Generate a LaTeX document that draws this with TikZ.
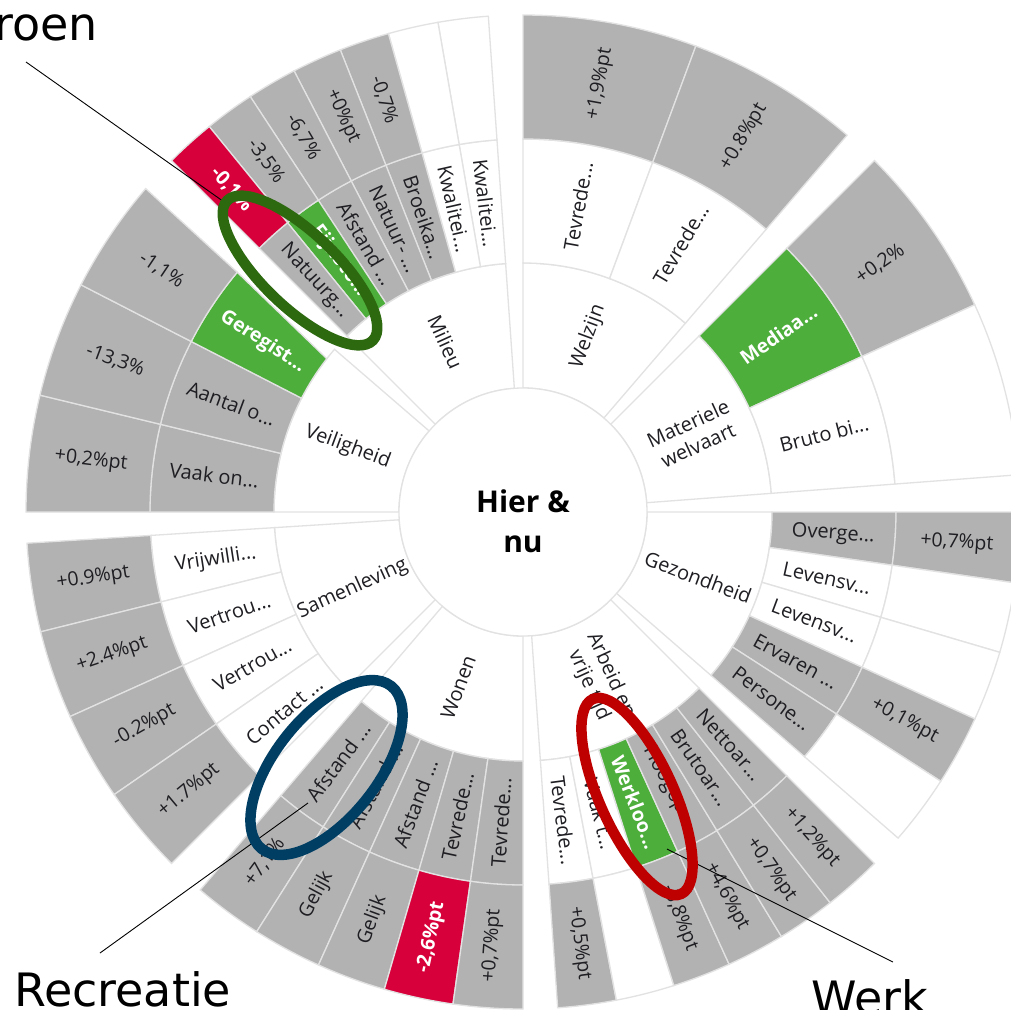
\documentclass[tikz,border=0pt]{standalone}
\usepackage{fontspec}
\setmainfont{Open Sans}
\newfontfamily\callfont{DejaVu Sans}
\definecolor{sbgray}{RGB}{178,178,178}
\definecolor{sbgreen}{RGB}{77,174,59}
\definecolor{sbred}{RGB}{216,0,58}
\definecolor{sbline}{RGB}{226,226,226}
\definecolor{sbtext}{RGB}{30,30,35}
\definecolor{ovgreen}{RGB}{45,105,15}
\definecolor{ovblue}{RGB}{0,62,100}
\definecolor{ovred}{RGB}{190,0,0}
% cell: rin, rout, a1, a2, style
\newcommand\sbc[5]{\path[#5] (#3:#1) arc[start angle=#3,end angle=#4,radius=#1] -- (#4:#2) arc[start angle=#4,end angle=#3,radius=#2] -- cycle;}
% label: name, angle, radius, text, style
\newcommand\sbl[5]{\pgfmathsetmacro\sbrot{ifthenelse(and(#2>90,#2<270),#2-180,#2)}\node[#5,rotate=\sbrot] (#1) at (#2:#3) {#4};}
\begin{document}
\begin{tikzpicture}[x=1pt,y=1pt,
  cw/.style={fill=white,draw=sbline,line width=1.3},
  cg/.style={fill=sbgray,draw=sbline,line width=1.3},
  cgr/.style={fill=sbgreen,draw=sbline,line width=1.3},
  cr/.style={fill=sbred,draw=sbline,line width=1.3},
  lab/.style={inner sep=0,text=sbtext,font=\fontsize{20}{24}\selectfont,align=center},
  vlab/.style={inner sep=0,text=sbtext,font=\fontsize{19.5}{23}\selectfont},
  wlab/.style={text=white,font=\bfseries\fontsize{19.5}{23}\selectfont},
  oval/.style={line width=10.5},
  callout/.style={draw=black,line width=0.9},
  calltext/.style={inner sep=0,font=\callfont\fontsize{46}{50}\selectfont}]
\useasboundingbox (0,0) rectangle (1010,-1010);
\fill[white] (0,0) rectangle (1010,-1010);
\begin{scope}[shift={(523,-512)}]
% ---------------- Welzijn
\sbc{124}{249}{49.3}{90}{cw}
\sbc{249}{373}{69.65}{90}{cw}
\sbc{249}{373}{49.3}{69.65}{cw}
\sbc{373}{497}{69.65}{90}{cg}
\sbc{373}{497}{49.3}{69.65}{cg}
% ---------------- Materiele welvaart
\sbc{124}{249}{4.3}{45}{cw}
\sbc{249}{373}{24.65}{45}{cgr}
\sbc{249}{373}{4.3}{24.65}{cw}
\sbc{373}{497}{24.65}{45}{cg}
\sbc{373}{497}{4.3}{24.65}{cw}
% ---------------- Gezondheid
\sbc{124}{249}{-41}{0}{cw}
\sbc{249}{373}{-8.2}{0}{cg}
\sbc{249}{373}{-16.4}{-8.2}{cw}
\sbc{249}{373}{-24.6}{-16.4}{cw}
\sbc{249}{373}{-32.8}{-24.6}{cg}
\sbc{249}{373}{-41}{-32.8}{cg}
\sbc{373}{497}{-8.2}{0}{cg}
\sbc{373}{497}{-16.4}{-8.2}{cw}
\sbc{373}{497}{-24.6}{-16.4}{cw}
\sbc{373}{497}{-32.8}{-24.6}{cg}
\sbc{373}{497}{-41}{-32.8}{cw}
% ---------------- Arbeid en vrije tijd
\sbc{124}{249}{-86}{-45}{cw}
\sbc{249}{373}{-86}{-79.17}{cw}
\sbc{249}{373}{-79.17}{-72.33}{cw}
\sbc{249}{373}{-72.33}{-65.5}{cgr}
\sbc{249}{373}{-65.5}{-58.67}{cg}
\sbc{249}{373}{-58.67}{-51.83}{cg}
\sbc{249}{373}{-51.83}{-45}{cg}
\sbc{373}{497}{-86}{-79.17}{cg}
\sbc{373}{497}{-79.17}{-72.33}{cw}
\sbc{373}{497}{-72.33}{-65.5}{cg}
\sbc{373}{497}{-65.5}{-58.67}{cg}
\sbc{373}{497}{-58.67}{-51.83}{cg}
\sbc{373}{497}{-51.83}{-45}{cg}
% ---------------- Wonen
\sbc{124}{249}{229.5}{270}{cw}
\sbc{249}{373}{229.5}{237.6}{cg}
\sbc{249}{373}{237.6}{245.7}{cg}
\sbc{249}{373}{245.7}{253.8}{cg}
\sbc{249}{373}{253.8}{261.9}{cg}
\sbc{249}{373}{261.9}{270}{cg}
\sbc{373}{497}{229.5}{237.6}{cg}
\sbc{373}{497}{237.6}{245.7}{cg}
\sbc{373}{497}{245.7}{253.8}{cg}
\sbc{373}{497}{253.8}{261.9}{cr}
\sbc{373}{497}{261.9}{270}{cg}
% ---------------- Samenleving
\sbc{124}{249}{183.6}{225}{cw}
\sbc{249}{373}{183.6}{193.95}{cw}
\sbc{249}{373}{193.95}{204.3}{cw}
\sbc{249}{373}{204.3}{214.65}{cw}
\sbc{249}{373}{214.65}{225}{cw}
\sbc{373}{497}{183.6}{193.95}{cg}
\sbc{373}{497}{193.95}{204.3}{cg}
\sbc{373}{497}{204.3}{214.65}{cg}
\sbc{373}{497}{214.65}{225}{cg}
% ---------------- Veiligheid
\sbc{124}{249}{139.2}{180}{cw}
\sbc{249}{373}{166.4}{180}{cg}
\sbc{249}{373}{152.8}{166.4}{cg}
\path[cgr] (142:249) arc[start angle=142,end angle=152.8,radius=249] -- (152.8:373) arc[start angle=152.8,end angle=140,radius=373] -- cycle;
\sbc{373}{497}{166.4}{180}{cg}
\sbc{373}{497}{152.8}{166.4}{cg}
\path[cg] (140:373) arc[start angle=140,end angle=152.8,radius=373] -- (152.8:497) arc[start angle=152.8,end angle=139.4,radius=497] -- cycle;
% ---------------- Milieu
\sbc{124}{249}{94}{135}{cw}
\sbc{249}{373}{94}{99.857}{cw}
\sbc{249}{373}{99.857}{105.714}{cw}
\sbc{249}{373}{105.714}{111.571}{cg}
\sbc{249}{373}{111.571}{117.429}{cg}
\sbc{249}{373}{117.429}{123.286}{cg}
\sbc{249}{373}{123.286}{129.143}{cgr}
\sbc{249}{373}{129.143}{135}{cg}
\sbc{373}{497}{94}{99.857}{cw}
\sbc{373}{497}{99.857}{105.714}{cw}
\sbc{373}{497}{105.714}{111.571}{cg}
\sbc{373}{497}{111.571}{117.429}{cg}
\sbc{373}{497}{117.429}{123.286}{cg}
\sbc{373}{497}{123.286}{129.143}{cg}
\sbc{373}{497}{129.143}{135}{cr}
% ---------------- centre
\draw[fill=white,draw=sbline,line width=1.3] (0,0) circle[radius=124];
\node[inner sep=0,align=center,text=black,font=\bfseries\fontsize{30}{40}\selectfont] (centre) at (0,-9) {Hier \&\\nu};
% ---------------- labels: themes
\sbl{tWel}{69.65}{187}{Welzijn}{lab}
\sbl{tMat}{24.65}{187}{Materiele\\welvaart}{lab}
\sbl{tGez}{-20.5}{187}{Gezondheid}{lab}
\sbl{tArb}{-65.5}{185}{Arbeid en\\vrije tijd}{lab}
\sbl{tWon}{249.75}{187}{Wonen}{lab}
\sbl{tSam}{204.3}{187}{Samenleving}{lab}
\sbl{tVei}{159.6}{187}{Veiligheid}{lab}
\sbl{tMil}{114.5}{187}{Milieu}{lab}
% ---------------- labels: indicators
\sbl{iWel1}{79.8}{311}{Tevrede...}{lab}
\sbl{iWel2}{59.5}{311}{Tevrede...}{lab}
\sbl{iMat1}{34.8}{311}{Mediaa...}{lab,wlab}
\sbl{iMat2}{14.5}{311}{Bruto bi...}{lab}
\sbl{iGez1}{-4.1}{311}{Overge...}{lab}
\sbl{iGez2}{-12.3}{311}{Levensv...}{lab}
\sbl{iGez3}{-20.5}{311}{Levensv...}{lab}
\sbl{iGez4}{-28.7}{311}{Ervaren ...}{lab}
\sbl{iGez5}{-36.9}{311}{Persone...}{lab}
\sbl{iArb1}{-82.58}{311}{Tevrede...}{lab}
\sbl{iArb2}{-75.75}{311}{Vaak t...}{lab}
\sbl{iArb3}{-68.92}{311}{Werkloo...}{lab,wlab}
\sbl{iArb4}{-62.08}{311}{Hoogop...}{lab}
\sbl{iArb5}{-55.25}{311}{Brutoar...}{lab}
\sbl{iArb6}{-48.42}{311}{Nettoar...}{lab}
\sbl{iWon1}{233.55}{311}{Afstand ...}{lab}
\sbl{iWon2}{241.65}{311}{Afstand ...}{lab}
\sbl{iWon3}{249.75}{311}{Afstand ...}{lab}
\sbl{iWon4}{257.85}{311}{Tevrede...}{lab}
\sbl{iWon5}{265.95}{311}{Tevrede...}{lab}
\sbl{iSam1}{188.78}{311}{Vrijwilli...}{lab}
\sbl{iSam2}{199.13}{311}{Vertrou...}{lab}
\sbl{iSam3}{209.48}{311}{Vertrou...}{lab}
\sbl{iSam4}{219.83}{311}{Contact ...}{lab}
\sbl{iVei1}{173.2}{311}{Vaak on...}{lab}
\sbl{iVei2}{159.6}{311}{Aantal o...}{lab}
\sbl{iVei3}{146.8}{311}{Geregist...}{lab,wlab}
\sbl{iMil1}{96.93}{311}{Kwalitei...}{lab}
\sbl{iMil2}{102.79}{311}{Kwalitei...}{lab}
\sbl{iMil3}{108.64}{311}{Broeika...}{lab}
\sbl{iMil4}{114.5}{311}{Natuur- ...}{lab}
\sbl{iMil5}{120.36}{311}{Afstand ...}{lab}
\sbl{iMil6}{126.21}{311}{Fijnsto...}{lab,wlab}
\sbl{iMil7}{132.07}{311}{Natuurg...}{lab}
% ---------------- labels: values
\sbl{vWel1}{79.8}{435}{+1,9\%pt}{vlab}
\sbl{vWel2}{59.5}{435}{+0.8\%pt}{vlab}
\sbl{vMat1}{34.8}{435}{+0,2\%}{vlab}
\sbl{vGez1}{-4.1}{435}{+0,7\%pt}{vlab}
\sbl{vGez4}{-28.7}{435}{+0,1\%pt}{vlab}
\sbl{vArb1}{-82.58}{435}{+0,5\%pt}{vlab}
\sbl{vArb3}{-68.92}{435}{-3,8\%pt}{vlab}
\sbl{vArb4}{-62.08}{435}{+4,6\%pt}{vlab}
\sbl{vArb5}{-55.25}{435}{+0,7\%pt}{vlab}
\sbl{vArb6}{-48.42}{435}{+1,2\%pt}{vlab}
\sbl{vWon1}{233.55}{435}{+7,1\%}{vlab}
\sbl{vWon2}{241.65}{435}{Gelijk}{vlab}
\sbl{vWon3}{249.75}{435}{Gelijk}{vlab}
\sbl{vWon4}{257.85}{435}{-2,6\%pt}{vlab,wlab}
\sbl{vWon5}{265.95}{435}{+0,7\%pt}{vlab}
\sbl{vSam1}{188.78}{435}{+0.9\%pt}{vlab}
\sbl{vSam2}{199.13}{435}{+2.4\%pt}{vlab}
\sbl{vSam3}{209.48}{435}{-0.2\%pt}{vlab}
\sbl{vSam4}{219.83}{435}{+1.7\%pt}{vlab}
\sbl{vVei1}{173.2}{435}{+0,2\%pt}{vlab}
\sbl{vVei2}{159.6}{435}{-13,3\%}{vlab}
\sbl{vVei3}{146.2}{435}{-1,1\%}{vlab}
\sbl{vMil3}{108.64}{435}{-0,7\%}{vlab}
\sbl{vMil4}{114.5}{435}{+0\%pt}{vlab}
\sbl{vMil5}{120.36}{435}{-6,7\%}{vlab}
\sbl{vMil6}{126.21}{435}{-3,5\%}{vlab}
\sbl{vMil7}{132.07}{435}{-0,1\%}{vlab,wlab}
\end{scope}
% ---------------- callouts
\node[calltext,anchor=base east] (groen) at (98,-40) {Groen};
\node[calltext,anchor=base west] (recr) at (14,-1006) {Recreatie};
\node[calltext,anchor=base west] (werk) at (811,-1014) {Werk};
\coordinate (gA) at (26,-62);
\coordinate (gB) at (227,-204);
\coordinate (rA) at (100,-953);
\coordinate (rB) at (308,-803);
\coordinate (wA) at (893,-962);
\coordinate (wB) at (667,-849);
\draw[callout] (gA) -- (gB);
\draw[callout] (rA) -- (rB);
\draw[callout] (wA) -- (wB);
\draw[oval,draw=ovgreen,rotate around={-43.8:(300,-270.5)}] (300,-270.5) ellipse[x radius=101,y radius=37];
\draw[oval,draw=ovblue,rotate around={51.5:(326.5,-767.5)}] (326.5,-767.5) ellipse[x radius=104,y radius=51];
\draw[oval,draw=ovred,rotate around={-65.6:(637,-796.5)}] (637,-796.5) ellipse[x radius=107,y radius=37];
\end{tikzpicture}
\end{document}
